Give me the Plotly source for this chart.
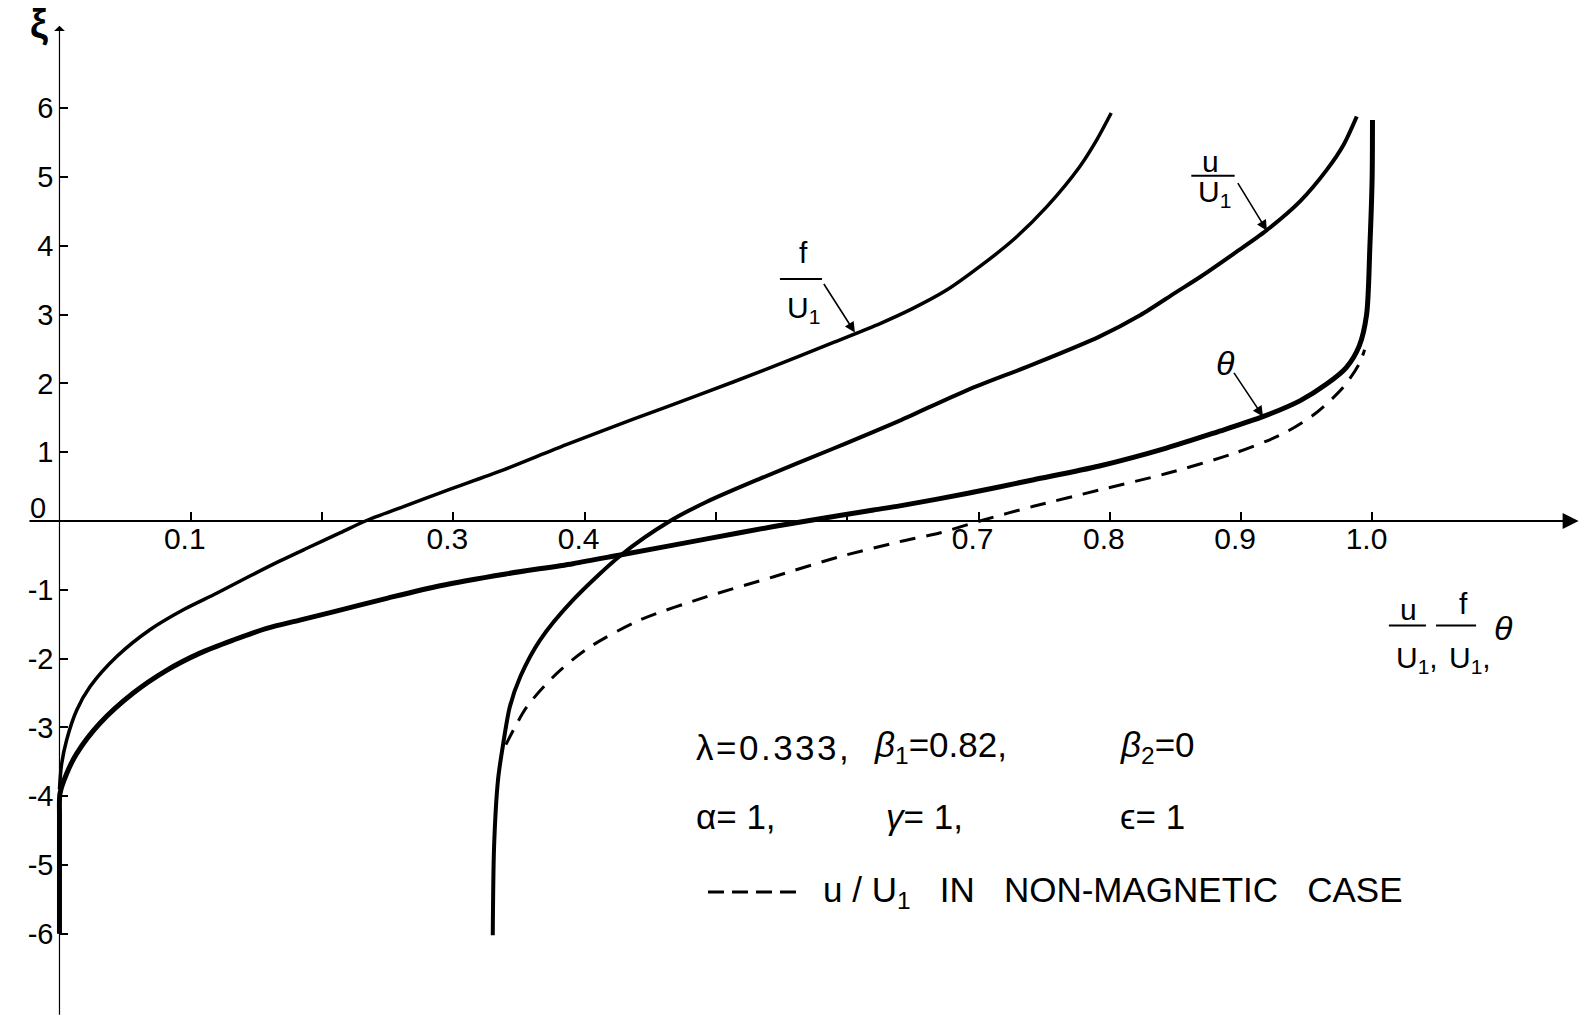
import plotly.graph_objects as go

# f / U1
f_x = [0.000, 0.0015, 0.0055, 0.0131, 0.0232, 0.0436, 0.0689, 0.0943, 0.1197, 0.145, 0.168, 0.188,
       0.214, 0.233, 0.262, 0.290, 0.335, 0.386, 0.437, 0.488, 0.539, 0.590, 0.625, 0.650, 0.676,
       0.701, 0.726, 0.752, 0.777, 0.790, 0.801]
f_y = [-3.90, -3.55, -3.18, -2.75, -2.41, -1.97, -1.58, -1.29, -1.05, -0.80, -0.58, -0.40,
       -0.17, 0.00, 0.21, 0.41, 0.72, 1.11, 1.48, 1.84, 2.21, 2.60, 2.87, 3.09, 3.36,
       3.70, 4.08, 4.57, 5.15, 5.54, 5.93]

# theta
theta_x = [0.000, 0.000, 0.0004, 0.0055, 0.0131, 0.0308, 0.0562, 0.0816, 0.107, 0.1324, 0.1578, 0.183,
           0.2085, 0.250, 0.290, 0.340, 0.391, 0.428, 0.493, 0.544, 0.569, 0.620, 0.640, 0.691, 0.742,
           0.792, 0.843, 0.881, 0.917, 0.945, 0.965, 0.980, 0.990, 0.9955, 0.998, 0.9997, 1.000]
theta_y = [-6.00, -4.30, -3.96, -3.67, -3.38, -2.94, -2.50, -2.17, -1.92, -1.73, -1.56, -1.44,
           -1.32, -1.12, -0.94, -0.77, -0.62, -0.49, -0.26, -0.08, 0.00, 0.16, 0.22, 0.40, 0.60,
           0.80, 1.06, 1.29, 1.52, 1.75, 1.99, 2.23, 2.55, 3.00, 3.99, 4.96, 5.83]

# u / U1
u_x = [0.330, 0.331, 0.334, 0.338, 0.343, 0.351, 0.366, 0.391, 0.428, 0.465, 0.493, 0.534, 0.589,
       0.640, 0.691, 0.742, 0.792, 0.823, 0.850, 0.869, 0.894, 0.919, 0.945, 0.965, 0.978, 0.988]
u_y = [-6.02, -4.73, -3.76, -3.23, -2.70, -2.26, -1.73, -1.15, -0.49, 0.00, 0.28, 0.62, 1.05,
       1.46, 1.90, 2.28, 2.68, 2.99, 3.32, 3.55, 3.88, 4.22, 4.65, 5.10, 5.47, 5.88]

# u / U1 in the non-magnetic case
u0_x = [0.340, 0.356, 0.379, 0.404, 0.442, 0.493, 0.544, 0.594, 0.640, 0.671, 0.701, 0.741, 0.792,
        0.843, 0.894, 0.932, 0.957, 0.978, 0.990, 0.994]
u0_y = [-3.25, -2.70, -2.21, -1.83, -1.44, -1.10, -0.81, -0.52, -0.30, -0.17, 0.00, 0.21, 0.45,
        0.69, 0.98, 1.27, 1.57, 1.95, 2.29, 2.49]

x_tickvals = [0.1, 0.2, 0.3, 0.4, 0.5, 0.6, 0.7, 0.8, 0.9, 1.0]
x_ticktext = ['0.1', '', '0.3', '0.4', '', '', '0.7', '0.8', '0.9', '1.0']
y_tickvals = [-6, -5, -4, -3, -2, -1, 1, 2, 3, 4, 5, 6]
y_ticktext = ['-6', '-5', '-4', '-3', '-2', '-1', '1', '2', '3', '4', '5', '6']

X_RANGE = [-0.0453, 1.1687]
Y_RANGE = [-7.253, 7.573]
FONT = 'Liberation Sans'
SP = '\u00a0'

fig = go.Figure()
fig.add_trace(go.Scatter(x=f_x, y=f_y, mode='lines', line=dict(color='black', width=3.5, shape='spline', smoothing=0.8)))
fig.add_trace(go.Scatter(x=u_x, y=u_y, mode='lines', line=dict(color='black', width=4, shape='spline', smoothing=0.8)))
fig.add_trace(go.Scatter(x=theta_x, y=theta_y, mode='lines', line=dict(color='black', width=5, shape='spline', smoothing=0.8)))
fig.add_trace(go.Scatter(x=u0_x, y=u0_y, mode='lines',
                         line=dict(color='black', width=3, dash='16px,11px', shape='spline', smoothing=0.8)))

ann = []
# axis lines with arrows
ann.append(dict(x=1.157, y=0, ax=-0.024, ay=0, axref='x', ayref='y', xref='x', yref='y', text='',
                showarrow=True, arrowhead=2, arrowsize=1.6, arrowwidth=2, arrowcolor='black'))
ann.append(dict(x=0, y=7.2, ax=0, ay=-7.2, axref='x', ayref='y', xref='x', yref='y', text='',
                showarrow=True, arrowhead=1, arrowsize=1.5, arrowwidth=1.2, arrowcolor='black'))


def txt(x, y, s, size=30, xanchor='center'):
    ann.append(dict(x=x, y=y, xref='x', yref='y', text=s, showarrow=False, xanchor=xanchor,
                    yanchor='middle', font=dict(family=FONT, size=size, color='black')))


txt(-0.016, 0.19, '0', 29)
txt(-0.0155, 7.22, '<b>ξ</b>', 40)

# curve labels
txt(0.5663, 3.90, 'f', 30)
txt(0.5663, 3.08, 'U<sub>1</sub>', 30)
txt(0.8770, 5.22, 'u', 30)
txt(0.8800, 4.76, 'U<sub>1</sub>', 30)
txt(0.8877, 2.30, '<i>θ</i>', 34)

# axis label
txt(1.0271, -1.29, 'u', 30)
txt(1.0336, -2.02, 'U<sub>1</sub>,', 30)
txt(1.0690, -1.20, 'f', 30)
txt(1.0746, -2.02, 'U<sub>1</sub>,', 30)
txt(1.1000, -1.55, '<i>θ</i>', 34)

# parameters
txt(0.4833, -3.285, '<span style="letter-spacing:2.5px">λ=0.333,</span>', 35, 'left')
txt(0.6190, -3.285, '<i>β</i><sub>1</sub>=0.82,', 35, 'left')
txt(0.8062, -3.285, '<i>β</i><sub>2</sub>=0', 35, 'left')
txt(0.4833, -4.302, 'α=' + SP + '1,', 35, 'left')
txt(0.6280, -4.302, '<i>γ</i>=' + SP + '1,', 35, 'left')
txt(0.8062, -4.302, 'ϵ=' + SP + '1', 35, 'left')
txt(0.5800, -5.392, 'u' + SP + '/' + SP + 'U<sub>1</sub>' + SP * 3 + 'IN' + SP * 3 + 'NON-MAGNETIC' + SP * 3 + 'CASE',
    35, 'left')

# arrows to curves
for xa, ya, dx, dy in [(0.6058, 2.74, -32, -50), (0.9196, 4.22, -30, -49), (0.9166, 1.52, -30, -45)]:
    ann.append(dict(x=xa, y=ya, xref='x', yref='y', ax=dx, ay=dy, text='', showarrow=True,
                    arrowhead=2, arrowsize=1.3, arrowwidth=1.6, arrowcolor='black'))

shapes = []
for x0, x1, y0 in [(0.5487, 0.5807, 3.517), (0.8620, 0.8950, 5.02), (1.0125, 1.0407, -1.52), (1.0484, 1.0789, -1.52)]:
    shapes.append(dict(type='line', xref='x', yref='y', x0=x0, x1=x1, y0=y0, y1=y0, line=dict(color='black', width=2)))
shapes.append(dict(type='line', xref='x', yref='y', x0=0.4939, x1=0.5624, y0=-5.392, y1=-5.392,
                   line=dict(color='black', width=3, dash='16px,8px')))

fig.update_layout(
    width=1594, height=1020, margin=dict(l=0, r=0, t=0, b=0),
    paper_bgcolor='white', plot_bgcolor='white', showlegend=False,
    annotations=ann, shapes=shapes,
    xaxis=dict(range=X_RANGE, anchor='free', position=-Y_RANGE[0] / (Y_RANGE[1] - Y_RANGE[0]),
               showline=False, showgrid=False, zeroline=False, ticks='inside', ticklen=9, tickwidth=1.5,
               tickcolor='black', tickvals=x_tickvals, ticktext=x_ticktext, ticklabelstandoff=-3,
               ticklabelshift=-6, tickfont=dict(family=FONT, size=30, color='black')),
    yaxis=dict(range=Y_RANGE, anchor='free', position=-X_RANGE[0] / (X_RANGE[1] - X_RANGE[0]),
               showline=False, showgrid=False, zeroline=False, ticks='inside', ticklen=8, tickwidth=1.5,
               tickcolor='black', tickvals=y_tickvals, ticktext=y_ticktext, ticklabelstandoff=6,
               tickfont=dict(family=FONT, size=29, color='black')),
)

fig.write_html("out.html", config={'displayModeBar': False},
               post_script="document.body.style.margin='0';")
